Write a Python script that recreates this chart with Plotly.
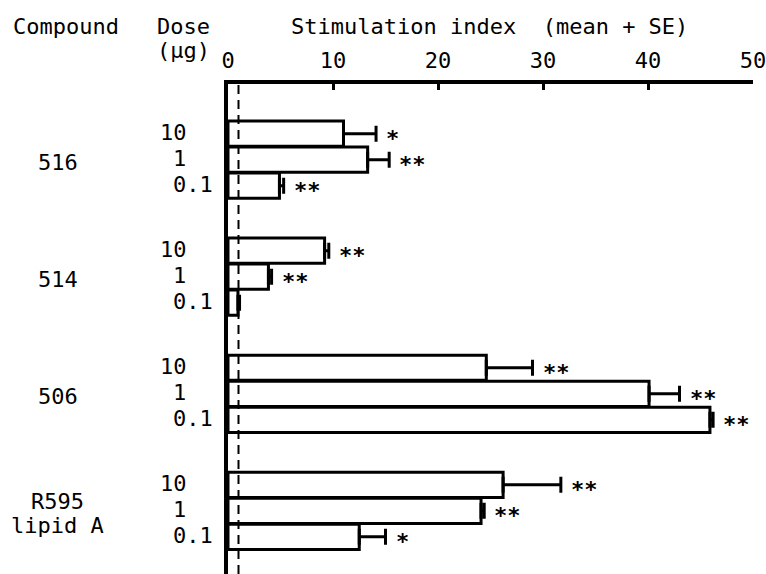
import plotly.graph_objects as go

# ---------------- data ----------------
compounds = ["516", "514", "506", "R595<br>lipid A"]
doses = ["10", "1", "0.1"]
# mean stimulation index per compound, for doses 10, 1, 0.1 ug
means = {
    "516": [11.0, 13.3, 4.9],
    "514": [9.2, 3.85, 0.95],
    "506": [24.6, 40.1, 45.9],
    "R595<br>lipid A": [26.2, 24.1, 12.5],
}
# standard errors (plus side only)
se = {
    "516": [3.1, 2.05, 0.4],
    "514": [0.4, 0.3, 0.15],
    "506": [4.4, 2.9, 0.3],
    "R595<br>lipid A": [5.5, 0.3, 2.5],
}
# significance marks
sig = {
    "516": ["*", "**", "**"],
    "514": ["**", "**", ""],
    "506": ["**", "**", "**"],
    "R595<br>lipid A": ["**", "**", "*"],
}
xticks = [0, 10, 20, 30, 40, 50]
baseline = 1

# ---------------- layout constants ----------------
W, H = 766, 574
ML, MR, MT, MB = 228, 11, 84, 0
FONT = "DejaVu Sans Mono"
FS = 22
GROUP_STEP = 4.5
Y_RANGE = [16.93, -1.91]

def px_x(px):
    return (px - ML) / (W - ML - MR)

def px_y(py):
    return 1 - (py - MT) / (H - MT - MB)

ys, xs, errs, marks = [], [], [], []
for g, c in enumerate(compounds):
    for d in range(len(doses)):
        ys.append(g * GROUP_STEP + d)
        xs.append(means[c][d])
        errs.append(se[c][d])
        marks.append(sig[c][d])

fig = go.Figure()
fig.add_trace(go.Bar(
    x=xs, y=ys, orientation="h", width=0.97,
    marker=dict(color="white", line=dict(color="black", width=3)),
    error_x=dict(type="data", array=errs, arrayminus=[0] * len(errs),
                 symmetric=False, color="black", thickness=3, width=8),
    showlegend=False, hoverinfo="skip",
))

# baseline dashed line
fig.add_shape(type="line", xref="x", yref="paper", x0=baseline, x1=baseline,
              y0=0, y1=1, line=dict(color="black", width=2, dash="9px,6px"))

ann = []
# significance stars
for x, e, y, m in zip(xs, errs, ys, marks):
    if m:
        ann.append(dict(x=x + e, y=y, xref="x", yref="y", text="<b>" + m + "</b>",
                        showarrow=False, xanchor="left", yanchor="middle",
                        xshift=8, yshift=-5,
                        font=dict(family=FONT, size=FS, color="black")))
# dose labels (decimal aligned)
for g, c in enumerate(compounds):
    for d, dl in enumerate(doses):
        ip = dl.split(".")[0]
        ann.append(dict(x=px_x(184 - 13.2 * len(ip)), y=g * GROUP_STEP + d,
                        xref="paper", yref="y", text=dl, showarrow=False,
                        xanchor="left", yanchor="middle", yshift=1,
                        font=dict(family=FONT, size=FS, color="black")))
    lines = c.split("<br>")
    n = len(lines)
    for k, ln in enumerate(lines):
        off = (k - (n - 1) / 2) * 24
        ann.append(dict(x=px_x(57), y=g * GROUP_STEP + 1, xref="paper", yref="y",
                        text=ln, showarrow=False, xanchor="center", yanchor="middle",
                        yshift=-3 - off,
                        font=dict(family=FONT, size=FS, color="black")))
# headers
for txt, px, py in [("Compound", 10, 27), ("Dose", 155, 27), ("(μg)", 155, 50),
                    ("Stimulation index  (mean + SE)", 289, 27)]:
    ann.append(dict(x=px_x(px), y=px_y(py), xref="paper", yref="paper",
                    text=txt, showarrow=False, xanchor="left", yanchor="middle",
                    font=dict(family=FONT, size=FS, color="black")))

fig.update_layout(
    width=W, height=H, margin=dict(l=ML, r=MR, t=MT, b=MB),
    paper_bgcolor="white", plot_bgcolor="white",
    annotations=ann,
    xaxis=dict(side="top", range=[0, 50], tickvals=xticks,
               ticktext=[str(t) for t in xticks], ticks="inside", ticklen=6,
               tickwidth=2.5, tickcolor="black", showline=True, linewidth=3.5,
               linecolor="black", showgrid=False, zeroline=False,
               tickfont=dict(family=FONT, size=FS, color="black"),
               ticklabelstandoff=3, ticklabeloverflow="allow"),
    yaxis=dict(range=Y_RANGE, showticklabels=False, showgrid=False,
               zeroline=False, showline=True, linewidth=4, linecolor="black",
               ticks=""),
)

fig.write_html("out.html")
